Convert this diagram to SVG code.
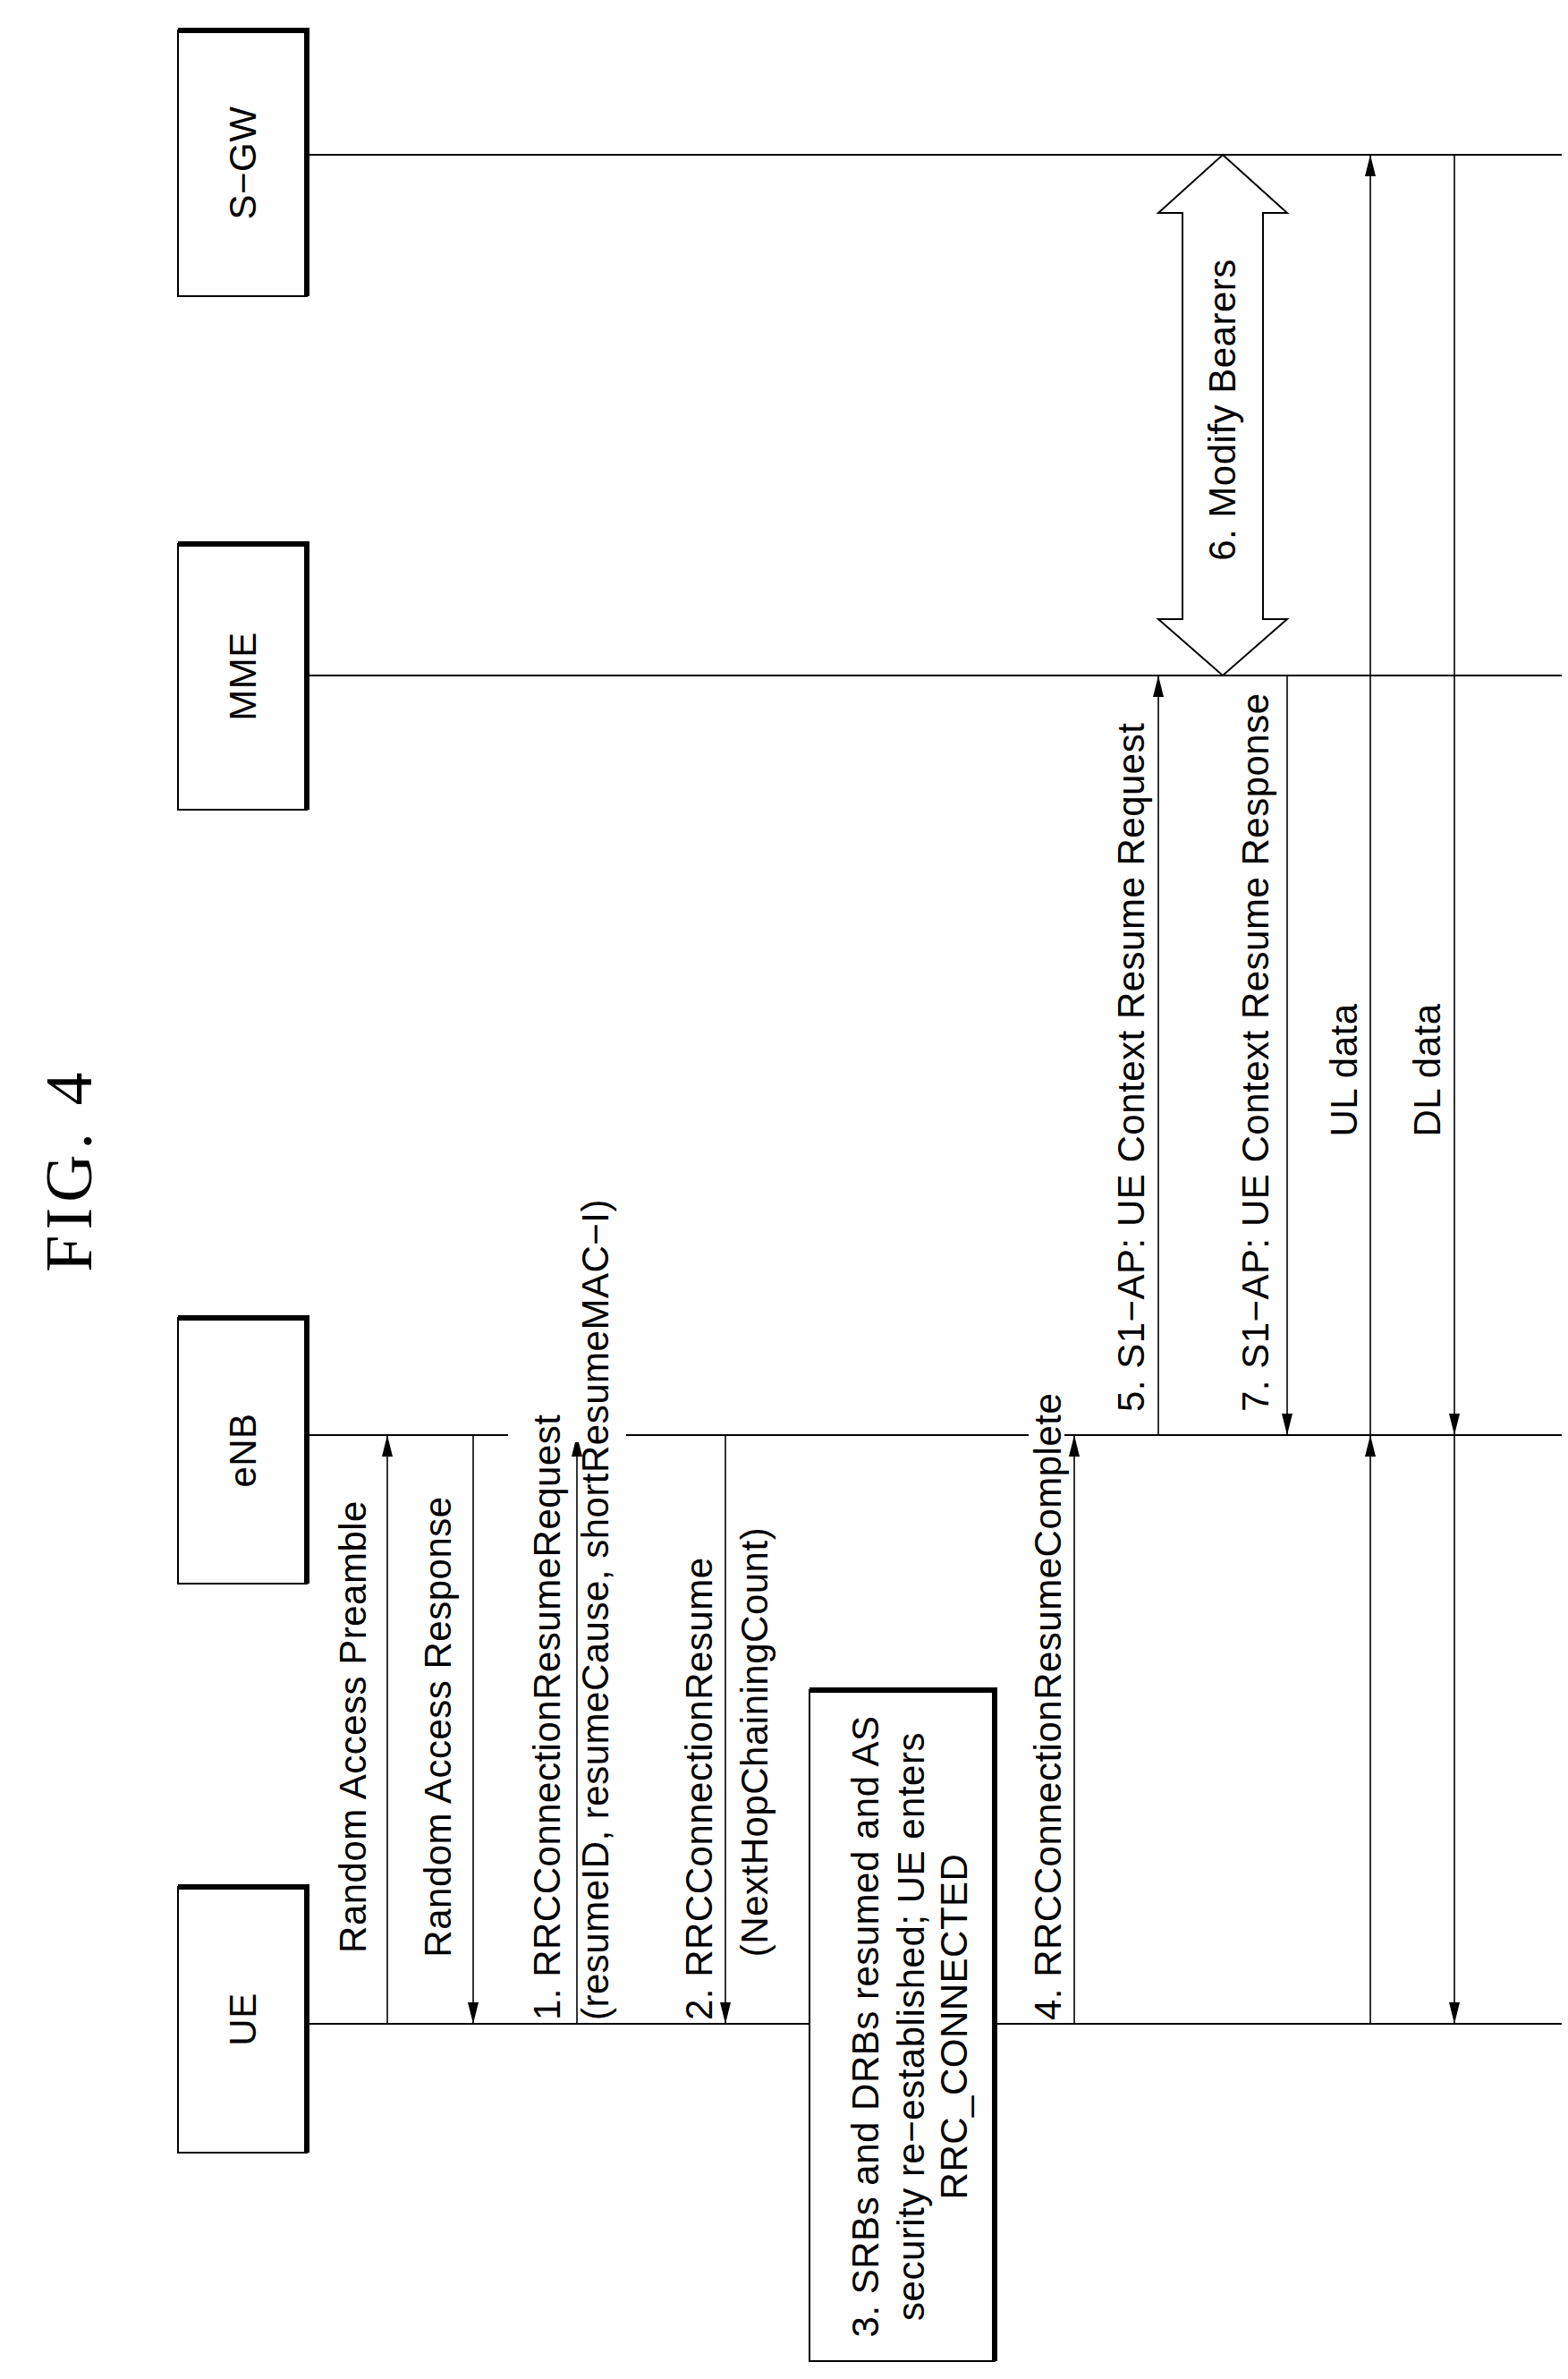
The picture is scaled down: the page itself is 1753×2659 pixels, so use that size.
<svg xmlns="http://www.w3.org/2000/svg" width="1753" height="2659" viewBox="0 0 1753 2659">
<style>
.box{fill:#fff;stroke:#000;stroke-width:2}
.sh{stroke:#000;stroke-width:6;fill:none}
.life{stroke:#000;stroke-width:2}
.msg{stroke:#000;stroke-width:1.6}
.t{font-family:"Liberation Sans",Arial,sans-serif;font-size:42px;letter-spacing:0.5px;fill:#000}
</style>
<defs>
<marker id="a" viewBox="0 0 24 12" refX="24" refY="6" markerWidth="24" markerHeight="12" markerUnits="userSpaceOnUse" orient="auto"><path d="M0,0 L24,6 L0,12 z" fill="#000"/></marker>
</defs>
<rect width="1753" height="2659" fill="#fff"/>
<text x="77" y="1307" transform="rotate(-90 77 1307)" text-anchor="middle" dominant-baseline="central" font-family="Liberation Serif,serif" font-size="74" letter-spacing="6">FIG. 4</text>
<g id="lifelines">
<line class="life" x1="343" y1="173" x2="1746" y2="173"/>
<line class="life" x1="343" y1="755" x2="1746" y2="755"/>
<line class="life" x1="343" y1="1604" x2="1746" y2="1604"/>
<line class="life" x1="343" y1="2262" x2="905" y2="2262"/>
<line class="life" x1="1112" y1="2262" x2="1746" y2="2262"/>
</g>
<g id="sgw"><rect class="box" x="199" y="34" width="144" height="297"/><path class="sh" d="M199,34 H343 V331"/><text class="t" x="271" y="182" transform="rotate(-90 271 182)" text-anchor="middle" dominant-baseline="central">S−GW</text></g>
<g id="mme"><rect class="box" x="199" y="608" width="144" height="297"/><path class="sh" d="M199,608 H343 V905"/><text class="t" x="271" y="756" transform="rotate(-90 271 756)" text-anchor="middle" dominant-baseline="central">MME</text></g>
<g id="enb"><rect class="box" x="199" y="1473" width="144" height="297"/><path class="sh" d="M199,1473 H343 V1770"/><text class="t" x="271" y="1621" transform="rotate(-90 271 1621)" text-anchor="middle" dominant-baseline="central">eNB</text></g>
<g id="ue"><rect class="box" x="199" y="2109" width="144" height="297"/><path class="sh" d="M199,2109 H343 V2406"/><text class="t" x="271" y="2257" transform="rotate(-90 271 2257)" text-anchor="middle" dominant-baseline="central">UE</text></g>
<g id="step3"><rect class="box" x="905" y="1889" width="207" height="750"/><path class="sh" d="M905,1889 H1112 V2639"/>
<text class="t" text-anchor="middle" dominant-baseline="central" transform="rotate(-90 967 2265)" x="967" y="2265">3. SRBs and DRBs resumed and AS</text>
<text class="t" text-anchor="middle" dominant-baseline="central" transform="rotate(-90 1018 2265)" x="1018" y="2265">security re−established; UE enters</text>
<text class="t" text-anchor="middle" dominant-baseline="central" transform="rotate(-90 1066 2265)" x="1066" y="2265">RRC_CONNECTED</text></g>
<g id="connectors">
<line class="msg" x1="433" y1="2262" x2="433" y2="1604" marker-end="url(#a)" stroke="#666"/>
<line class="msg" x1="529" y1="1604" x2="529" y2="2262" marker-end="url(#a)" stroke="#666"/>
<line class="msg" x1="645" y1="2262" x2="645" y2="1604" marker-end="url(#a)"/>
<line class="msg" x1="811" y1="1604" x2="811" y2="2262" marker-end="url(#a)"/>
<line class="msg" x1="1201" y1="2262" x2="1201" y2="1604" marker-end="url(#a)"/>
<line class="msg" x1="1295" y1="1604" x2="1295" y2="755" marker-end="url(#a)"/>
<line class="msg" x1="1439" y1="755" x2="1439" y2="1604" marker-end="url(#a)"/>
<line class="msg" x1="1532" y1="2262" x2="1532" y2="1604" marker-end="url(#a)"/>
<line class="msg" x1="1532" y1="1604" x2="1532" y2="173" marker-end="url(#a)"/>
<line class="msg" x1="1626" y1="173" x2="1626" y2="1604" marker-end="url(#a)"/>
<line class="msg" x1="1626" y1="1604" x2="1626" y2="2262" marker-end="url(#a)"/>
<path d="M1367,173 L1439,238 L1412,238 L1412,692 L1439,692 L1367,755 L1295,692 L1322,692 L1322,238 L1295,238 Z" fill="#fff" stroke="#000" stroke-width="2"/>
</g>
<g id="labels">
<rect x="568" y="1596" width="132" height="16" fill="#fff"/>
<rect x="1150" y="1596" width="40" height="16" fill="#fff"/>
<text class="t" x="394" y="1930" transform="rotate(-90 394 1930)" text-anchor="middle" dominant-baseline="central">Random Access Preamble</text>
<text class="t" x="489" y="1930" transform="rotate(-90 489 1930)" text-anchor="middle" dominant-baseline="central">Random Access Response</text>
<text class="t" x="611" y="2258" transform="rotate(-90 611 2258)" dominant-baseline="central">1. RRCConnectionResumeRequest</text>
<text class="t" x="665" y="2258" transform="rotate(-90 665 2258)" dominant-baseline="central">(resumeID, resumeCause, shortResumeMAC−I)</text>
<text class="t" x="781" y="2258" transform="rotate(-90 781 2258)" dominant-baseline="central">2. RRCConnectionResume</text>
<text class="t" x="843" y="1947" transform="rotate(-90 843 1947)" text-anchor="middle" dominant-baseline="central">(NextHopChainingCount)</text>
<text class="t" x="1171" y="2258" transform="rotate(-90 1171 2258)" dominant-baseline="central">4. RRCConnectionResumeComplete</text>
<text class="t" x="1264" y="1578" transform="rotate(-90 1264 1578)" dominant-baseline="central">5. S1−AP: UE Context Resume Request</text>
<text class="t" x="1403" y="1578" transform="rotate(-90 1403 1578)" dominant-baseline="central">7. S1−AP: UE Context Resume Response</text>
<text class="t" x="1366" y="458" transform="rotate(-90 1366 458)" text-anchor="middle" dominant-baseline="central">6. Modify Bearers</text>
<text class="t" x="1502" y="1196" transform="rotate(-90 1502 1196)" text-anchor="middle" dominant-baseline="central">UL data</text>
<text class="t" x="1595" y="1196" transform="rotate(-90 1595 1196)" text-anchor="middle" dominant-baseline="central">DL data</text>
</g>
</svg>
